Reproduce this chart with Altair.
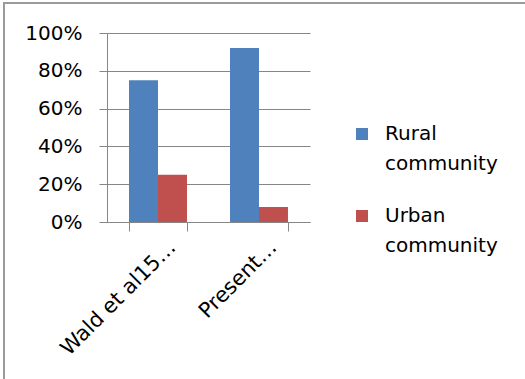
import altair as alt
import pandas as pd

studies = ["Wald et al15…", "Present…"]
groups = ["Rural community", "Urban community"]
rural = [0.75, 0.92]
urban = [0.25, 0.08]
colors = ["#4F81BD", "#C0504D"]

rows = []
for i, s in enumerate(studies):
    rows.append({"study": s, "group": groups[0], "value": rural[i]})
    rows.append({"study": s, "group": groups[1], "value": urban[i]})
df = pd.DataFrame(rows)

FONT = "DejaVu Sans"
GRAY = "#868686"

frame = alt.Chart(pd.DataFrame({"a": [0]})).mark_rect(
    fillOpacity=0, stroke="#9a9a9a", strokeWidth=2
).encode(
    x=alt.value(-103), x2=alt.value(700), y=alt.value(-30), y2=alt.value(500)
)

bars = alt.Chart(df).mark_bar().encode(
    x=alt.X("study:N", sort=studies,
            scale=alt.Scale(paddingInner=0.426, paddingOuter=0.218),
            axis=alt.Axis(title=None, tickBand="extent", tickSize=9,
                          labelAngle=315, labelAlign="right", labelBaseline="middle",
                          labelOffset=14, labelPadding=13, labelLimit=0, labelFontSize=21,
                          domainColor=GRAY, tickColor=GRAY, grid=False)),
    xOffset=alt.XOffset("group:N", sort=groups,
                        scale=alt.Scale(paddingInner=0, paddingOuter=0)),
    y=alt.Y("value:Q", scale=alt.Scale(domain=[0, 1]),
            axis=alt.Axis(title=None, values=[0, 0.2, 0.4, 0.6, 0.8, 1.0], format=".0%",
                          grid=True, gridColor=GRAY, domainColor=GRAY, tickColor=GRAY,
                          tickSize=8, labelPadding=17)),
    color=alt.Color("group:N", sort=groups,
                    scale=alt.Scale(domain=groups, range=colors),
                    legend=alt.Legend(title=None, orient="none", legendX=245, legendY=91,
                                      symbolType="square", symbolSize=144,
                                      symbolStrokeWidth=0, labelOffset=13,
                                      labelExpr="split(datum.label, ' ')",
                                      labelBaseline="middle", rowPadding=32,
                                      padding=0)),
)

chart = alt.layer(frame, bars).properties(
    width=203, height=189,
    autosize=alt.AutoSizeParams(type="none"),
    padding={"left": 107, "top": 33, "right": 215, "bottom": 157},
    background="white",
).configure(
    style={"guide-label": {"lineHeight": 30}}
).configure_view(strokeWidth=0).configure_axis(
    labelFont=FONT, labelFontSize=20, labelColor="black"
).configure_legend(
    labelFont=FONT, labelFontSize=20, labelColor="black"
)

chart.save("out.html", embed_options={"renderer": "svg", "actions": False})
